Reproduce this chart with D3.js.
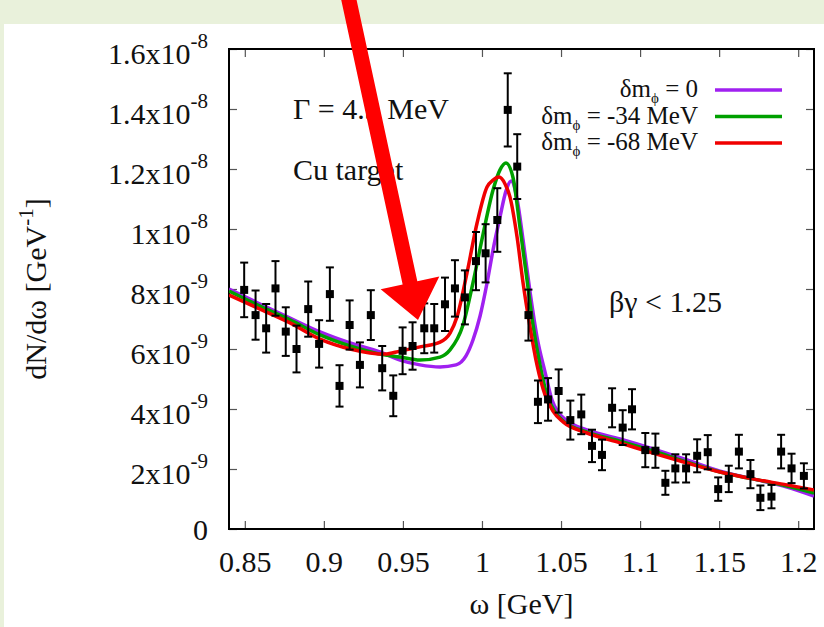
<!DOCTYPE html>
<meta charset="utf-8"/>
<title>dN/dw - Cu target</title>
<style>
    body {
        margin: 0;
    }

    svg text {
        font-family: "Liberation Serif", "Times New Roman", serif;
        fill: #111;
    }

    .curve {
        fill: none;
        stroke-width: 3.5px;
        stroke-linejoin: round;
    }

    .tick line {
        stroke: #555;
        stroke-width: 1.2px;
    }

    .err {
        stroke: #000;
        stroke-width: 2px;
    }
</style>
<script src="https://cdn.jsdelivr.net/npm/d3@7"></script>
<svg id="chart" width="824" height="627" viewBox="0 0 824 627"></svg>
<script>
    "use strict";

    // measured spectrum, values in units of 1e-9 GeV^-1
    const omega = [0.8496, 0.8568, 0.8635, 0.8694, 0.8759, 0.8827, 0.8901, 0.8970, 0.9038, 0.9099,
        0.9163, 0.9228, 0.9297, 0.9369, 0.9439, 0.9498, 0.9561, 0.9635, 0.9698, 0.9766,
        0.9829, 0.9892, 0.9962, 1.0023, 1.0097, 1.0163, 1.0223, 1.0294, 1.0354, 1.0418,
        1.0485, 1.0559, 1.0628, 1.0696, 1.0759, 1.0823, 1.0890, 1.0949, 1.1033, 1.1097,
        1.1160, 1.1223, 1.1291, 1.1361, 1.1428, 1.1494, 1.1561, 1.1625, 1.1698, 1.1761,
        1.1831, 1.1892, 1.1958, 1.2036];
    const dndw = [7.97, 7.13, 6.69, 8.02, 6.58, 6.00, 7.33, 6.17, 7.83, 4.77,
        6.80, 5.47, 7.13, 5.36, 4.44, 5.94, 6.10, 6.69, 6.69, 7.49,
        8.02, 7.72, 8.93, 9.19, 10.30, 13.97, 12.08, 7.13, 4.24, 4.32,
        4.60, 3.63, 3.82, 2.77, 2.47, 4.04, 3.38, 3.99, 2.63, 2.61,
        1.54, 2.02, 2.02, 2.44, 2.56, 1.33, 1.67, 2.58, 1.83, 1.04,
        1.08, 2.58, 2.02, 1.77];
    const dndwErr = [0.91, 0.82, 0.81, 0.91, 0.81, 0.78, 0.92, 0.79, 0.89, 0.69,
        0.82, 0.75, 0.83, 0.74, 0.68, 0.78, 0.79, 0.83, 0.81, 0.89,
        0.94, 0.90, 0.97, 0.97, 1.06, 1.22, 1.08, 0.85, 0.71, 0.71,
        0.72, 0.65, 0.66, 0.54, 0.51, 0.65, 0.58, 0.67, 0.57, 0.57,
        0.40, 0.47, 0.47, 0.55, 0.57, 0.39, 0.44, 0.56, 0.47, 0.41,
        0.39, 0.56, 0.49, 0.42];

    // model curves (dm_phi = 0, -34 MeV, -68 MeV)
    const dm0Omega = [0.8400, 0.8596, 0.8786, 0.8976, 0.9166, 0.9355, 0.9482, 0.9608, 0.9735, 0.9836,
        0.9899, 0.9943, 0.9988, 1.0032, 1.0070, 1.0114, 1.0152, 1.0184, 1.0222, 1.0260,
        1.0304, 1.0348, 1.0399, 1.0443, 1.0481, 1.0532, 1.0664, 1.0873, 1.1082, 1.1297,
        1.1506, 1.1714, 1.1929, 1.2100];
    const dm0Val = [8.00, 7.50, 7.03, 6.57, 6.20, 5.90, 5.63, 5.47, 5.40, 5.47,
        5.77, 6.30, 7.10, 8.20, 9.30, 10.40, 11.27, 11.60, 11.00, 9.63,
        7.90, 6.40, 5.23, 4.30, 3.90, 3.63, 3.30, 3.00, 2.67, 2.30,
        1.93, 1.67, 1.40, 1.10];

    const dm34Omega = [0.8400, 0.8596, 0.8786, 0.8976, 0.9166, 0.9355, 0.9482, 0.9608, 0.9735, 0.9798,
        0.9880, 0.9943, 1.0007, 1.0070, 1.0114, 1.0152, 1.0197, 1.0241, 1.0285, 1.0323,
        1.0367, 1.0411, 1.0462, 1.0513, 1.0664, 1.0873, 1.1082, 1.1297, 1.1506, 1.1714,
        1.1929, 1.2100];
    const dm34Val = [7.93, 7.43, 6.97, 6.47, 6.10, 5.83, 5.73, 5.63, 5.73, 5.97,
        6.80, 8.20, 9.83, 11.30, 11.97, 12.20, 11.70, 10.03, 8.30, 6.80,
        5.47, 4.47, 3.90, 3.60, 3.23, 2.93, 2.60, 2.23, 1.90, 1.67,
        1.43, 1.20];

    const dm68Omega = [0.8400, 0.8596, 0.8786, 0.8976, 0.9166, 0.9292, 0.9387, 0.9482, 0.9608, 0.9735,
        0.9798, 0.9842, 0.9905, 0.9969, 1.0032, 1.0070, 1.0108, 1.0146, 1.0177, 1.0222,
        1.0260, 1.0304, 1.0348, 1.0399, 1.0449, 1.0513, 1.0664, 1.0873, 1.1082, 1.1297,
        1.1506, 1.1714, 1.1929, 1.2100];
    const dm68Val = [7.80, 7.33, 6.87, 6.33, 6.00, 5.87, 5.83, 5.93, 6.07, 6.23,
        6.53, 7.07, 8.53, 10.20, 11.40, 11.63, 11.73, 11.50, 11.07, 9.73,
        8.20, 6.73, 5.47, 4.47, 3.93, 3.57, 3.20, 2.87, 2.53, 2.20,
        1.90, 1.67, 1.47, 1.30];

    const seriesLabels = ["= 0", "= -34 MeV", "= -68 MeV"];
    const seriesColors = ["#a020f0", "#00a000", "#f00000"];

    const xTicks = [0.85, 0.9, 0.95, 1.0, 1.05, 1.1, 1.15, 1.2];
    const xTickLabels = ["0.85", "0.9", "0.95", "1", "1.05", "1.1", "1.15", "1.2"];
    const yTicks = [0, 2, 4, 6, 8, 10, 12, 14, 16];
    const yTickMant = ["0", "2x10", "4x10", "6x10", "8x10", "1x10", "1.2x10", "1.4x10", "1.6x10"];
    const yTickExp = ["", "-9", "-9", "-9", "-9", "-8", "-8", "-8", "-8"];

    const width = 824;
    const height = 627;
    const plotLeft = 229, plotRight = 814, plotTop = 49, plotBottom = 529;
    const tickLen = 8;

    const svg = d3.select("#chart");

    // page background: pale green border, white panel
    svg.append("rect").attr("width", width).attr("height", height).attr("fill", "#e9f1db");
    svg.append("rect").attr("x", 4).attr("y", 24)
        .attr("width", width - 4).attr("height", height - 24).attr("fill", "#fff");

    const x = d3.scaleLinear().domain([0.84, 1.21]).range([plotLeft, plotRight]);
    const y = d3.scaleLinear().domain([0, 16]).range([plotBottom, plotTop]);

    const noDomain = function (g)
    {
        g.select(".domain").remove();
        g.attr("font-family", null).attr("font-size", null);
    };

    // bottom axis with labels
    svg.append("g")
        .attr("transform", "translate(0," + plotBottom + ")")
        .call(d3.axisBottom(x).tickValues(xTicks).tickSize(-tickLen).tickSizeOuter(0)
            .tickFormat(function (d, i)
            {
                return xTickLabels[i];
            }))
        .call(noDomain)
        .call(function (g)
        {
            g.selectAll(".tick text")
                .attr("y", 43)
                .attr("dy", null)
                .attr("font-size", 30);
        });

    // top and right mirror ticks
    svg.append("g")
        .attr("transform", "translate(0," + plotTop + ")")
        .call(d3.axisTop(x).tickValues(xTicks).tickSize(-tickLen).tickSizeOuter(0).tickFormat(""))
        .call(noDomain);
    svg.append("g")
        .attr("transform", "translate(" + plotRight + ",0)")
        .call(d3.axisRight(y).tickValues(yTicks).tickSize(-tickLen).tickSizeOuter(0).tickFormat(""))
        .call(noDomain);

    // left axis, labels like 1.6x10^-8
    svg.append("g")
        .attr("transform", "translate(" + plotLeft + ",0)")
        .call(d3.axisLeft(y).tickValues(yTicks).tickSize(-tickLen).tickSizeOuter(0).tickFormat(""))
        .call(noDomain)
        .call(function (g)
        {
            g.selectAll(".tick text").each(function (d, i)
            {
                const t = d3.select(this)
                    .attr("x", -21)
                    .attr("dy", null)
                    .attr("y", yTickExp[i] ? 14 : 10)
                    .attr("font-size", 30)
                    .text(null);
                t.append("tspan").text(yTickMant[i]);
                if (yTickExp[i])
                {
                    t.append("tspan").attr("font-size", 21).attr("dy", -16).text(yTickExp[i]);
                }
            });
        });

    // frame
    svg.append("rect")
        .attr("x", plotLeft).attr("y", plotTop)
        .attr("width", plotRight - plotLeft).attr("height", plotBottom - plotTop)
        .attr("fill", "none").attr("stroke", "#000").attr("stroke-width", 2);

    svg.append("clipPath").attr("id", "plotArea")
        .append("rect").attr("x", plotLeft).attr("y", plotTop)
        .attr("width", plotRight - plotLeft).attr("height", plotBottom - plotTop);

    // curves
    const line = d3.line()
        .x(function (d)
        {
            return x(d[0]);
        })
        .y(function (d)
        {
            return y(d[1]);
        })
        .curve(d3.curveMonotoneX);

    const curves = [
        d3.zip(dm0Omega, dm0Val),
        d3.zip(dm34Omega, dm34Val),
        d3.zip(dm68Omega, dm68Val)
    ];

    svg.append("g").attr("clip-path", "url(#plotArea)")
        .selectAll("path").data(curves).enter().append("path")
        .attr("class", "curve")
        .attr("stroke", function (d, i)
        {
            return seriesColors[i];
        })
        .attr("d", line);

    // data points with error bars, on top of the curves
    const points = omega.map(function (w, i)
    {
        return {w: w, v: dndw[i], e: dndwErr[i]};
    });
    const capW = 4;
    const pts = svg.append("g").attr("clip-path", "url(#plotArea)")
        .selectAll("g").data(points).enter().append("g");
    pts.append("line").attr("class", "err")
        .attr("x1", function (d) { return x(d.w); })
        .attr("x2", function (d) { return x(d.w); })
        .attr("y1", function (d) { return y(d.v - d.e); })
        .attr("y2", function (d) { return y(d.v + d.e); });
    pts.append("line").attr("class", "err")
        .attr("x1", function (d) { return x(d.w) - capW; })
        .attr("x2", function (d) { return x(d.w) + capW; })
        .attr("y1", function (d) { return y(d.v - d.e); })
        .attr("y2", function (d) { return y(d.v - d.e); });
    pts.append("line").attr("class", "err")
        .attr("x1", function (d) { return x(d.w) - capW; })
        .attr("x2", function (d) { return x(d.w) + capW; })
        .attr("y1", function (d) { return y(d.v + d.e); })
        .attr("y2", function (d) { return y(d.v + d.e); });
    pts.append("rect")
        .attr("x", function (d) { return x(d.w) - 4; })
        .attr("y", function (d) { return y(d.v) - 4; })
        .attr("width", 8).attr("height", 8)
        .attr("fill", "#000");

    // legend
    const legend = svg.append("g").selectAll("g").data(seriesLabels).enter().append("g")
        .attr("transform", function (d, i)
        {
            return "translate(0," + (90 + i * 26.5) + ")";
        });
    legend.append("line")
        .attr("x1", 715).attr("x2", 782)
        .attr("stroke", function (d, i)
        {
            return seriesColors[i];
        })
        .attr("stroke-width", 3.5);
    legend.append("text")
        .attr("x", 698).attr("y", 7)
        .attr("text-anchor", "end")
        .attr("font-size", 25)
        .each(function (d)
        {
            const t = d3.select(this);
            t.append("tspan").text("δm");
            t.append("tspan").attr("font-size", 15).attr("dy", 6).text("ϕ");
            t.append("tspan").attr("dy", -6).text(" " + d);
        });

    // annotations
    svg.append("text").attr("x", 293).attr("y", 119).attr("font-size", 30).text("Γ = 4.3 MeV");
    svg.append("text").attr("x", 293).attr("y", 180).attr("font-size", 30).text("Cu target");
    svg.append("text").attr("x", 609).attr("y", 312).attr("font-size", 30).text("βγ < 1.25");

    // axis titles
    const yTitle = svg.append("text")
        .attr("transform", "translate(46," + ((plotTop + plotBottom) / 2) + ") rotate(-90)")
        .attr("text-anchor", "middle")
        .attr("font-size", 30);
    yTitle.append("tspan").text("dN/dω [GeV");
    yTitle.append("tspan").attr("font-size", 21).attr("dy", -13).text("-1");
    yTitle.append("tspan").attr("dy", 13).text("]");

    svg.append("text")
        .attr("x", (plotLeft + plotRight) / 2).attr("y", 614)
        .attr("text-anchor", "middle")
        .attr("font-size", 30)
        .text("ω [GeV]");

    // red arrow pointing at the shoulder, drawn on top
    const tip = [418, 320];
    const dir = [68, 315];
    const len = Math.sqrt(dir[0] * dir[0] + dir[1] * dir[1]);
    const u = [dir[0] / len, dir[1] / len];
    const n = [u[1], -u[0]];
    const headLen = 38, headHalf = 30, shaftHalf = 7.5;
    const base = [tip[0] - headLen * u[0], tip[1] - headLen * u[1]];
    const tail = [tip[0] - (tip[1] + 2) / u[1] * u[0], -2];
    const off = function (p, k)
    {
        return [p[0] + k * n[0], p[1] + k * n[1]];
    };
    svg.append("polygon")
        .attr("points", [
            off(tail, shaftHalf), off(base, shaftHalf), off(base, headHalf), tip,
            off(base, -headHalf), off(base, -shaftHalf), off(tail, -shaftHalf)
        ].map(function (p)
        {
            return p.join(",");
        }).join(" "))
        .attr("fill", "#ff0000");
</script>
